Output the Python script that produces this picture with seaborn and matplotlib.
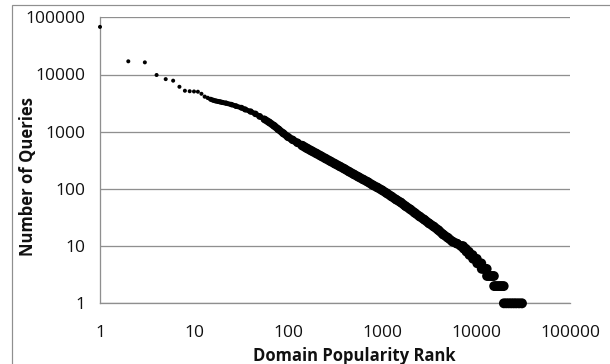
import numpy as np
import pandas as pd
import matplotlib
matplotlib.use("Agg")
import matplotlib.pyplot as plt
from matplotlib.patches import Rectangle
from matplotlib.ticker import FixedLocator, FixedFormatter, NullLocator
import seaborn as sns

# ---------------- data ----------------
head_rank = [1, 2, 3, 4, 5, 6, 7, 8, 9, 10, 11, 12, 13, 14, 15, 16, 17, 18, 19, 20]
head_queries = [68000, 17000, 16300, 9800, 8300, 7800, 6100, 5200, 5100, 5050,
                5000, 4600, 4100, 3900, 3700, 3550, 3450, 3380, 3320, 3250]

body_rank = [22, 25, 28, 32, 35, 40, 45, 50, 56, 63,
             71, 79, 89, 100, 112, 126, 141, 158, 178, 200,
             224, 251, 282, 316, 355, 398, 447, 501, 562, 631,
             708, 794, 891, 1000, 1122, 1259, 1413, 1585, 1778, 1995,
             2239, 2512, 2818, 3162, 3548, 3981, 4467, 5012, 5623, 6310]
body_queries = [3150, 2980, 2800, 2620, 2450, 2250, 2050, 1850, 1650, 1460,
                1270, 1100, 940, 810, 720, 640, 575, 515, 462, 417,
                376, 339, 305, 275, 248, 224, 200, 180, 162, 146,
                132, 117, 106, 95, 84, 74, 65, 58, 50, 44,
                38, 33, 29, 25, 22, 19, 16, 14, 12, 11]

tail_rank = [6900, 7100, 7300,
             7400, 7600, 7800,
             7900, 8150, 8400,
             8500, 8850, 9200,
             9300, 9750, 10200,
             10300, 10850, 11400,
             11500, 12000, 12500, 13000,
             13100, 13700, 14300, 14900, 15500,
             15600, 16400, 17200, 18000, 18800, 19700,
             19800, 21000, 22300, 23700, 25200, 26800, 28700, 30800]
tail_queries = [10, 10, 10,
                9, 9, 9,
                8, 8, 8,
                7, 7, 7,
                6, 6, 6,
                5, 5, 5,
                4, 4, 4, 4,
                3, 3, 3, 3, 3,
                2, 2, 2, 2, 2, 2,
                1, 1, 1, 1, 1, 1, 1, 1]

x_ticks = [1, 10, 100, 1000, 10000, 100000]
x_tick_labels = ["1", "10", "100", "1000", "10000", "100000"]
y_ticks = [1, 10, 100, 1000, 10000, 100000]
y_tick_labels = ["1", "10", "100", "1000", "10000", "100000"]
x_title = "Domain Popularity Rank"
y_title = "Number of Queries"

# ---------------- styling ----------------
sns.set_theme(style="white")
plt.rcParams['font.family'] = ['Open Sans', 'DejaVu Sans']

W, H = 610, 364
fig = plt.figure(figsize=(W / 100, H / 100), dpi=100)
fig.patch.set_facecolor("white")

L, R, T, B = 100, 570, 17.3, 303.3
ax = fig.add_axes([L / W, 1 - B / H, (R - L) / W, (B - T) / H])
ax.set_xscale("log")
ax.set_yscale("log")
ax.set_xlim(1, 100000)
ax.set_ylim(1, 100000)

GRID = "#8f8f8f"
PX = 0.72  # points per pixel at 100 dpi

df = pd.DataFrame({
    "rank": head_rank + body_rank + tail_rank,
    "queries": head_queries + body_queries + tail_queries,
})
body = pd.DataFrame({"rank": head_rank[14:] + body_rank,
                     "queries": head_queries[14:] + body_queries})

# continuous band drawn as thick lines through read points
segs = [((15, 63), 5.0), ((56, 158), 7.5), ((141, 6310), 9.4)]
for (lo, hi), wpx in segs:
    sub = body[(body["rank"] >= lo) & (body["rank"] <= hi)]
    sns.lineplot(data=sub, x="rank", y="queries", ax=ax, color="black",
                 lw=wpx * PX, estimator=None, sort=False,
                 solid_capstyle="round", solid_joinstyle="round", legend=False)

# markers
lr = np.log10(df["rank"].to_numpy(dtype=float))
diam = np.interp(lr, [1.08, 2.18, 3.6, 4.5], [4.0, 9.0, 9.5, 10.0])
sizes = (diam * PX) ** 2
sns.scatterplot(data=df, x="rank", y="queries", ax=ax, color="black",
                s=sizes, linewidth=0, legend=False, clip_on=False, zorder=3)

# grid, spines, ticks
ax.yaxis.grid(True, color=GRID, lw=1.3 * PX)
ax.xaxis.grid(False)
for sp in ["top", "right"]:
    ax.spines[sp].set_visible(False)
for sp in ["left", "bottom"]:
    ax.spines[sp].set_color(GRID)
    ax.spines[sp].set_linewidth(1.3 * PX)
ax.set_axisbelow(True)

ax.xaxis.set_major_locator(FixedLocator(x_ticks))
ax.xaxis.set_major_formatter(FixedFormatter(x_tick_labels))
ax.yaxis.set_major_locator(FixedLocator(y_ticks))
ax.yaxis.set_major_formatter(FixedFormatter(y_tick_labels))
ax.xaxis.set_minor_locator(NullLocator())
ax.yaxis.set_minor_locator(NullLocator())
ax.tick_params(axis="both", which="major", direction="out", length=5 * PX,
               width=1.3 * PX, color=GRID, labelsize=12.5, labelcolor="#111111")
ax.tick_params(axis="x", pad=17 * PX)
ax.tick_params(axis="y", pad=10 * PX)

ax.set_xlabel(x_title, fontsize=12, fontweight="bold", color="#111111")
ax.set_ylabel(y_title, fontsize=12, fontweight="bold", color="#111111")
ax.xaxis.label.set_va("center")
ax.xaxis.label.set_ha("center")
ax.xaxis.set_label_coords(354 / W, 1 - 356 / H, transform=fig.transFigure)
ax.yaxis.label.set_va("center")
ax.yaxis.label.set_ha("center")
ax.yaxis.label.set_rotation_mode("default")
ax.yaxis.set_label_coords(28 / W, 1 - 177 / H, transform=fig.transFigure)

# outer chart border (Excel chart area)
fig.add_artist(Rectangle((12 / W, -0.2), 1.5, 1 - 5 / H + 0.2,
                         transform=fig.transFigure, fill=False,
                         edgecolor=GRID, lw=1.2 * PX))

fig.savefig("out.png", dpi=100, facecolor="white")
